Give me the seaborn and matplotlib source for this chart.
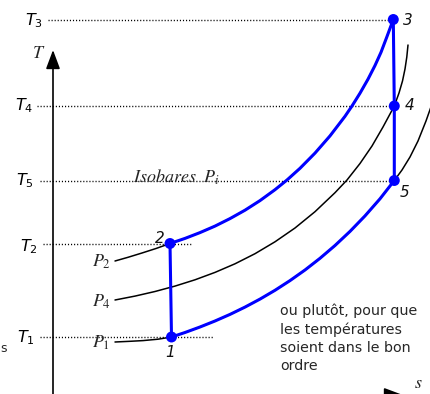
import matplotlib
matplotlib.use("Agg")
import matplotlib.pyplot as plt
import seaborn as sns

# Isobars in the T-s plane (arbitrary units: entropy s, temperature T)
s_p1 = [115, 130, 143, 158, 171.5, 185, 200, 215, 230, 245, 260, 275, 290,
        305, 320, 335, 350, 365, 380, 394.3, 402, 410, 418, 426, 432, 437]
T_p1 = [52, 52.7, 53.4, 54.8, 57, 61.5, 67, 73, 79.6, 86.9, 94.9, 103.7, 113.4,
        124, 135.7, 148.5, 162.6, 178.1, 195.2, 213.5, 224, 237, 253, 273, 290, 306]

s_p4 = [115, 135, 155, 175, 195, 215, 235, 255, 275, 295, 315, 335, 347,
        360, 372, 383, 394.3, 399, 402.5, 405, 406.8, 408]
T_p4 = [94, 97.9, 102.5, 107.9, 114.2, 121.6, 130.2, 140.3, 152.2, 166, 182.3,
        201.3, 214, 230.5, 248, 267, 288, 301, 313, 325, 337, 349]

s_p2 = [115, 128, 142, 156, 170, 185, 200, 215, 230, 245, 260, 275, 287,
        300, 315, 330, 345, 352, 360, 368, 375, 381, 387, 393.3]
T_p2 = [133, 136.7, 141, 145.5, 150.5, 155.6, 161.4, 167.9, 175.4, 183.8, 193.4,
        204.3, 214, 225.7, 240.9, 258.1, 277.7, 288, 300.8, 314.8, 328.5, 341.7,
        357.5, 374.5]

# States of the cycle
state_names = ["1", "2", "3", "4", "5"]
state_s = [171.5, 170, 393.3, 394.3, 394.3]
state_T = [57, 150.5, 374.5, 288, 213.5]

# Temperature reference labels (same order as the states)
temp_labels = ["$T_1$", "$T_2$", "$T_3$", "$T_4$", "$T_5$"]
isobar_labels = ["$P_1$", "$P_2$", "$P_4$"]

note = "ou plutôt, pour que\nles températures\nsoient dans le bon\nordre"

sns.set_theme(style="white")
plt.rcParams["font.family"] = ["DejaVu Sans"]

fig = plt.figure(figsize=(4.31, 3.94), dpi=100)
ax = fig.add_axes([0, 0, 1, 1])
ax.set_xlim(0, 431)
ax.set_ylim(0, 394)
ax.axis("off")

# dotted temperature guides: start near the label, stop past the state
guide_start = [40, 43, 48, 37, 40]
guide_end = [213, 192, 393.3, 394.3, 394.3]
label_right = [34.3, 37.3, 43, 33, 33.5]
label_base = [51.3, 143, 369, 283.3, 208.3]
for k in range(5):
    T = state_T[k]
    ax.plot([guide_start[k], guide_end[k]], [T, T], color="black",
            lw=1.0, linestyle=(0, (0.8, 1.4)), zorder=1)
    ax.text(label_right[k], label_base[k], temp_labels[k], ha="right",
            va="baseline", fontsize=11.5, color="black")

# axes arrows
arrow = dict(arrowstyle="-|>,head_length=1.15,head_width=0.43", color="black",
             lw=1.2, shrinkA=0, shrinkB=0, mutation_scale=10)
ax.annotate("", xy=(53, 344), xytext=(53, -6), arrowprops=arrow,
            annotation_clip=False)
ax.annotate("", xy=(403, -1), xytext=(53, -1), arrowprops=arrow,
            annotation_clip=False)
ax.text(32, 336, "$T$", math_fontfamily="stix", fontsize=13, ha="left",
        va="baseline")
ax.text(414, 6, "$s$", math_fontfamily="stix", fontsize=13, ha="left",
        va="baseline")
ax.text(0.5, 42, "s", fontsize=9, ha="left", va="baseline")

# black isobars
for s_vals, T_vals in [(s_p1, T_p1), (s_p4, T_p4), (s_p2, T_p2)]:
    sns.lineplot(x=s_vals, y=T_vals, sort=False, estimator=None,
                 color="black", lw=1.1, ax=ax, zorder=2)

# cycle in blue
blue = "#0000ff"
i1 = s_p1.index(state_s[0])
i5 = s_p1.index(state_s[4])
i2 = s_p2.index(state_s[1])
segments = [
    (s_p1[i1:i5 + 1], T_p1[i1:i5 + 1]),
    (s_p2[i2:], T_p2[i2:]),
    ([state_s[0], state_s[1]], [state_T[0], state_T[1]]),
    ([state_s[2], state_s[3], state_s[4]], [state_T[2], state_T[3], state_T[4]]),
]
for s_vals, T_vals in segments:
    sns.lineplot(x=s_vals, y=T_vals, sort=False, estimator=None,
                 color=blue, lw=2.2, ax=ax, zorder=3)
sns.scatterplot(x=state_s, y=state_T, color=blue, s=62, edgecolor="none",
                ax=ax, zorder=4, legend=False)

# state numbers
num_pos = [(165, 37.3), (155, 150.7), (403, 369), (405, 284), (400, 197.3)]
for name, (x, y) in zip(state_names, num_pos):
    ax.text(x, y, name, fontsize=11, style="italic", ha="left",
            va="baseline", color="#111111")

# isobar names
p_base = [46, 127, 87]
for lab, y in zip(isobar_labels, p_base):
    ax.text(92, y, lab, math_fontfamily="stix", fontsize=13, ha="left",
            va="baseline")
ax.text(133, 211, r"$\mathit{Isobares}\ \ P_i$", math_fontfamily="stix",
        fontsize=13, ha="left", va="baseline")

ax.text(280, 91, note, fontsize=10.3, ha="left", va="top", linespacing=1.4)

fig.savefig("out.png", dpi=100)
